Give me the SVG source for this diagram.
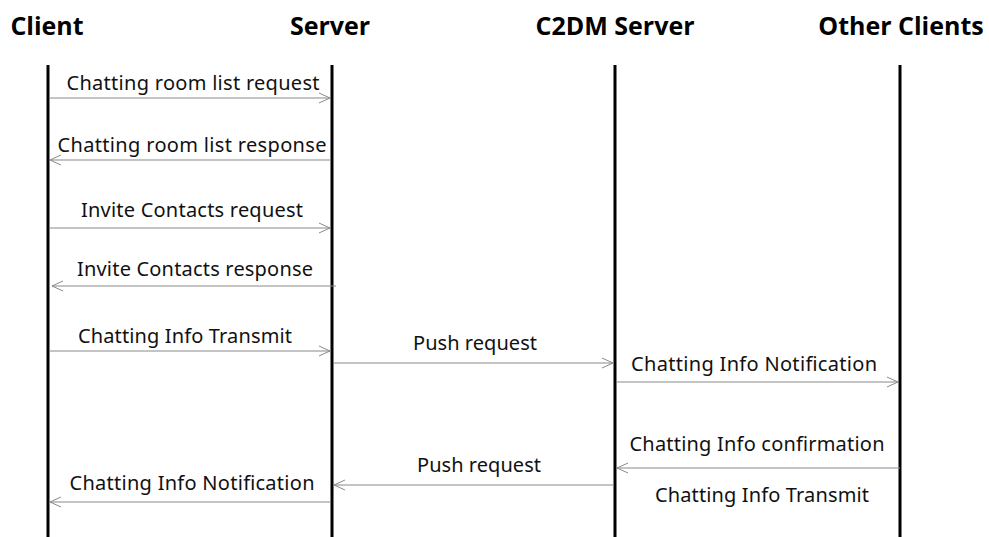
<svg xmlns="http://www.w3.org/2000/svg" width="989" height="537" viewBox="0 0 989 537">
<defs>
<marker id="arr" markerWidth="14" markerHeight="12" refX="12" refY="6" orient="auto" markerUnits="userSpaceOnUse">
<path d="M1,1 L12,6 L1,11" fill="none" stroke="#8a8a8a" stroke-width="1"/>
</marker>
</defs>
<style>
.hd{font-family:"Open Sans","Noto Sans",sans-serif;font-weight:bold;font-size:25px;fill:#000;text-anchor:middle}
.lb{font-family:"Noto Sans","Open Sans",sans-serif;font-size:20px;fill:#111;text-anchor:middle}
.life{stroke:#000;stroke-width:3}
.msg{stroke:#8a8a8a;stroke-width:1.2;fill:none;marker-end:url(#arr)}
</style>
<rect width="989" height="537" fill="#fff"/>
<g id="client"><text class="hd" x="47" y="35">Client</text><line class="life" x1="48" y1="65" x2="48" y2="537"/></g>
<g id="server"><text class="hd" x="330" y="35">Server</text><line class="life" x1="332" y1="65" x2="332" y2="537"/></g>
<g id="c2dm"><text class="hd" x="615" y="35">C2DM Server</text><line class="life" x1="615" y1="65" x2="615" y2="537"/></g>
<g id="others"><text class="hd" x="901" y="35">Other Clients</text><line class="life" x1="900" y1="65" x2="900" y2="537"/></g>
<g id="connectors">
<line class="msg" x1="50" y1="98" x2="330" y2="98"/>
<text class="lb" x="193" y="90" textLength="253">Chatting room list request</text>
<line class="msg" x1="330" y1="160" x2="50" y2="160"/>
<text class="lb" x="192" y="152" textLength="269">Chatting room list response</text>
<line class="msg" x1="50" y1="228" x2="330" y2="228"/>
<text class="lb" x="192" y="217" textLength="222">Invite Contacts request</text>
<line class="msg" x1="336" y1="286" x2="52" y2="286"/>
<text class="lb" x="195" y="276" textLength="236">Invite Contacts response</text>
<line class="msg" x1="50" y1="351" x2="330" y2="351"/>
<text class="lb" x="185" y="343" textLength="214">Chatting Info Transmit</text>
<line class="msg" x1="334" y1="363" x2="613" y2="363"/>
<text class="lb" x="475" y="350" textLength="124">Push request</text>
<line class="msg" x1="617" y1="382" x2="898" y2="382"/>
<text class="lb" x="754" y="371" textLength="246">Chatting Info Notification</text>
<line class="msg" x1="900" y1="468" x2="617" y2="468"/>
<text class="lb" x="757" y="451" textLength="255">Chatting Info confirmation</text>
<text class="lb" x="762" y="502" textLength="214">Chatting Info Transmit</text>
<line class="msg" x1="613" y1="485" x2="334" y2="485"/>
<text class="lb" x="479" y="472" textLength="124">Push request</text>
<line class="msg" x1="330" y1="502" x2="50" y2="502"/>
<text class="lb" x="192" y="490" textLength="245">Chatting Info Notification</text>
</g>
</svg>
